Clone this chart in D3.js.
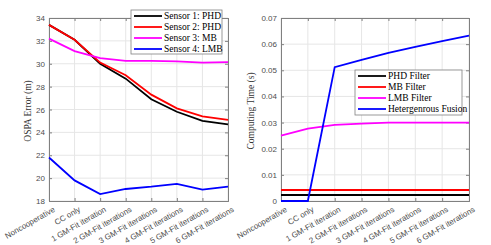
<!DOCTYPE html>
<meta charset="utf-8">
<style>
    body { margin: 0; background: #fff; }
    .tick text { font-family: "Liberation Sans", Arial, sans-serif; font-size: 8px; fill: #4d4d4d; }
    .grid line { stroke: #e6e6e6; }
    .legend text { font-family: "Liberation Serif", "Times New Roman", serif; font-size: 9.5px; fill: #000; }
    .ylabel { font-family: "Liberation Serif", "Times New Roman", serif; font-size: 9.5px; fill: #333; }
</style>
<body>
<div id="chart"></div>
<script src="https://d3js.org/d3.v7.min.js"></script>
<script>
    var categories = ["Noncooperative", "CC only", "1 GM-Fit iteration", "2 GM-Fit iterations",
        "3 GM-Fit iterations", "4 GM-Fit iterations", "5 GM-Fit iterations", "6 GM-Fit iterations"];

    // left plot: OSPA error
    var sensor1 = [33.4, 32.1, 30.0, 28.7, 26.9, 25.8, 25.0, 24.7];
    var sensor2 = [33.4, 32.1, 30.1, 29.0, 27.3, 26.1, 25.4, 25.1];
    var sensor3 = [32.2, 31.1, 30.5, 30.25, 30.25, 30.2, 30.1, 30.15];
    var sensor4 = [21.8, 19.8, 18.6, 19.05, 19.25, 19.5, 19.0, 19.25];
    var leftTicks = [18, 20, 22, 24, 26, 28, 30, 32, 34];

    // right plot: computing time
    var phdTime = [0.0023, 0.0023, 0.0023, 0.0023, 0.0023, 0.0023, 0.0023, 0.0023];
    var mbTime = [0.0042, 0.0042, 0.0042, 0.0042, 0.0042, 0.0042, 0.0042, 0.0042];
    var lmbTime = [0.025, 0.0277, 0.0291, 0.0296, 0.0300, 0.0300, 0.0300, 0.0300];
    var fusionTime = [0, 0, 0.0512, 0.0540, 0.0567, 0.0590, 0.0612, 0.0633];
    var rightTicks = [0, 0.01, 0.02, 0.03, 0.04, 0.05, 0.06, 0.07];

    var width = 491, height = 245;

    var svg = d3.select("#chart").append("svg")
        .attr("width", width)
        .attr("height", height);

    function drawPanel(opts) {
        var x = d3.scalePoint().domain(categories).range([opts.x0, opts.x1]);
        var y = d3.scaleLinear().domain(opts.domain).range([201, 18]);
        var g = svg.append("g");

        // grid
        g.append("g").attr("class", "grid")
            .selectAll("line.v").data(categories).enter().append("line")
            .attr("x1", function (d) { return x(d); })
            .attr("x2", function (d) { return x(d); })
            .attr("y1", 18).attr("y2", 201);
        g.append("g").attr("class", "grid")
            .selectAll("line.h").data(opts.ticks).enter().append("line")
            .attr("x1", opts.x0).attr("x2", opts.x1)
            .attr("y1", function (d) { return y(d); })
            .attr("y2", function (d) { return y(d); });

        // axes
        var yAxis = g.append("g")
            .attr("transform", "translate(" + opts.x0 + ",0)")
            .call(d3.axisLeft(y).tickValues(opts.ticks).tickSize(-3).tickPadding(4)
                .tickFormat(opts.fmt));
        var yAxisR = g.append("g")
            .attr("transform", "translate(" + opts.x1 + ",0)")
            .call(d3.axisRight(y).tickValues(opts.ticks).tickSize(-3).tickFormat(""));
        var xAxis = g.append("g")
            .attr("transform", "translate(0,201)")
            .call(d3.axisBottom(x).tickSize(-3).tickPadding(4));
        var xAxisT = g.append("g")
            .attr("transform", "translate(0,18)")
            .call(d3.axisTop(x).tickSize(-3).tickFormat(""));
        [yAxis, yAxisR, xAxis, xAxisT].forEach(function (a) {
            a.select(".domain").attr("stroke", "#808080").attr("stroke-width", 1);
            a.selectAll(".tick line").attr("stroke", "#808080");
        });
        xAxis.selectAll(".tick text")
            .attr("text-anchor", "end")
            .attr("transform", "translate(2,3) rotate(-30)")
            .attr("dy", "0.5em");

        // y label
        g.append("text").attr("class", "ylabel")
            .attr("text-anchor", "middle")
            .attr("transform", "translate(" + opts.labelX + ",111) rotate(-90)")
            .text(opts.label);

        // lines
        var line = d3.line()
            .x(function (d, i) { return x(categories[i]); })
            .y(function (d) { return y(d); });
        opts.series.forEach(function (s) {
            g.append("path")
                .datum(s.values)
                .attr("fill", "none")
                .attr("stroke", s.color)
                .attr("stroke-width", 1.8)
                .attr("d", line);
        });

        // legend
        var lg = g.append("g").attr("class", "legend");
        lg.append("rect")
            .attr("x", opts.legend[0]).attr("y", opts.legend[1])
            .attr("width", opts.legend[2]).attr("height", opts.legend[3])
            .attr("fill", "#fff").attr("stroke", "#808080").attr("stroke-width", 0.8);
        opts.series.forEach(function (s, i) {
            var ly = opts.legend[1] + 6 + i * 11;
            lg.append("line")
                .attr("x1", opts.legend[0] + 3).attr("x2", opts.legend[0] + 31)
                .attr("y1", ly).attr("y2", ly)
                .attr("stroke", s.color).attr("stroke-width", 1.8);
            lg.append("text")
                .attr("x", opts.legend[0] + 33).attr("y", ly)
                .attr("dy", "0.35em")
                .text(s.name);
        });
    }

    drawPanel({
        x0: 49, x1: 228, domain: [18, 34], ticks: leftTicks,
        fmt: d3.format("d"), label: "OSPA Error (m)", labelX: 31,
        legend: [131, 10, 91, 44],
        series: [
            { name: "Sensor 1: PHD", color: "#000000", values: sensor1 },
            { name: "Sensor 2: PHD", color: "#ff0000", values: sensor2 },
            { name: "Sensor 3: MB", color: "#ff00ff", values: sensor3 },
            { name: "Sensor 4: LMB", color: "#0000ff", values: sensor4 }
        ]
    });

    drawPanel({
        x0: 281, x1: 469, domain: [0, 0.07], ticks: rightTicks,
        fmt: function (d) { return d === 0 ? "0" : d3.format(".2f")(d); },
        label: "Computing Time (s)", labelX: 254,
        legend: [355, 70, 107, 45],
        series: [
            { name: "PHD Filter", color: "#000000", values: phdTime },
            { name: "MB Filter", color: "#ff0000", values: mbTime },
            { name: "LMB Filter", color: "#ff00ff", values: lmbTime },
            { name: "Hetergenrous Fusion", color: "#0000ff", values: fusionTime }
        ]
    });
</script>
</body>
